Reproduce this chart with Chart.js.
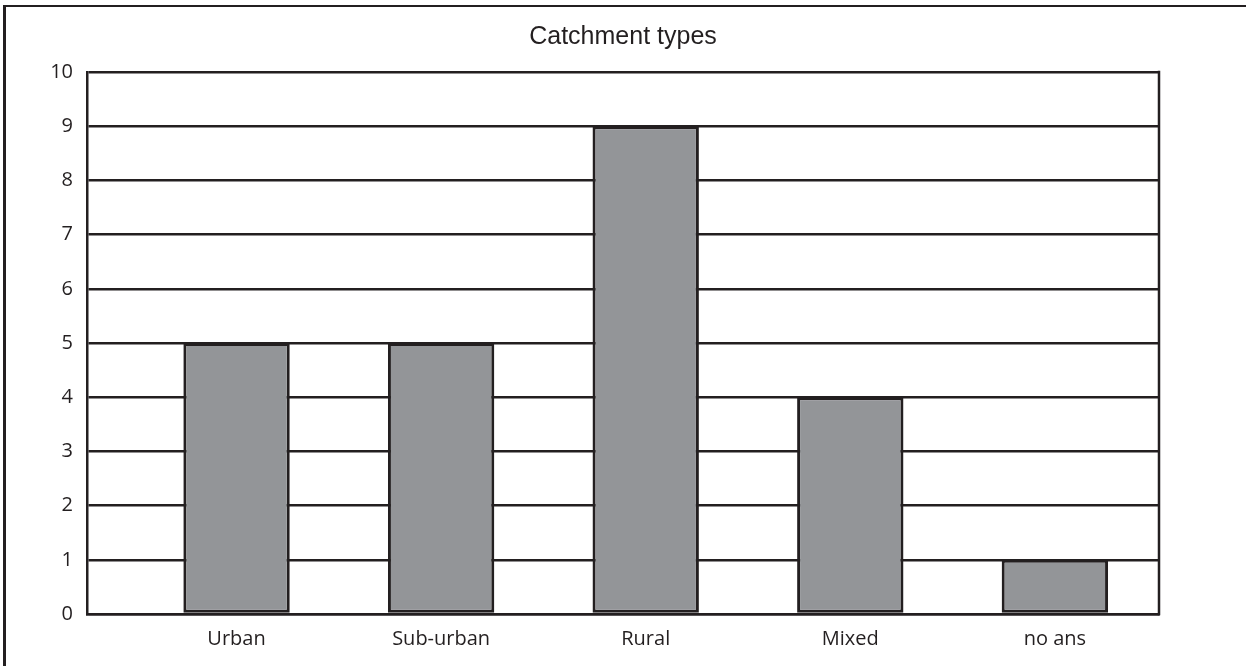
<!DOCTYPE html>
<html>
<head>
<meta charset="utf-8">
<title>Catchment types</title>
<script src="https://cdn.jsdelivr.net/npm/chart.js@4/dist/chart.umd.min.js"></script>
<style>
  html, body { margin: 0; padding: 0; background: #ffffff; overflow: hidden; }
  #wrap { position: relative; width: 1246px; height: 666px; }
  #frame {
    position: absolute; left: 3px; top: 5px; width: 2000px; height: 2000px;
    border-left: 3px solid #231f20; border-top: 2.5px solid #231f20;
    box-sizing: border-box; z-index: 0;
  }
  #chart { position: absolute; left: 0; top: 0; z-index: 1; }
</style>
</head>
<body>
<div id="wrap">
  <div id="frame"></div>
  <canvas id="chart" width="1246" height="666"></canvas>
</div>
<script>
// Survey answers: number of responses per catchment type
const categories = ['Urban', 'Sub-urban', 'Rural', 'Mixed', 'no ans'];
const counts = [5, 5, 9, 4, 1];
const yTicks = [0, 1, 2, 3, 4, 5, 6, 7, 8, 9, 10];

const ink = '#231f20';
const barGrey = '#939598';

// Closes the plot box on the right-hand side
const plotBox = {
  id: 'plotBox',
  afterDatasetsDraw(chart) {
    const { ctx, chartArea: a } = chart;
    ctx.save();
    ctx.strokeStyle = ink;
    ctx.lineWidth = 2.5;
    ctx.beginPath();
    ctx.moveTo(a.right, a.top - 1.25);
    ctx.lineTo(a.right, a.bottom + 1.25);
    ctx.stroke();
    ctx.restore();
  }
};

new Chart(document.getElementById('chart'), {
  type: 'bar',
  data: {
    datasets: [{
      data: counts.map((v, i) => ({ x: i, y: v })),
      backgroundColor: barGrey,
      borderColor: ink,
      borderWidth: 3,
      borderSkipped: false,
      categoryPercentage: 1,
      barPercentage: 0.52
    }]
  },
  options: {
    responsive: false,
    devicePixelRatio: 1,
    animation: false,
    layout: { padding: { left: 0, right: 87, top: 0, bottom: 0 } },
    plugins: {
      legend: { display: false },
      tooltip: { enabled: false },
      title: {
        display: true,
        fullSize: false,
        text: 'Catchment types',
        color: ink,
        font: { family: '"Liberation Sans", Arial, sans-serif', size: 25, weight: 'normal', lineHeight: 1.2 },
        padding: { top: 22, bottom: 20 }
      }
    },
    scales: {
      x: {
        type: 'linear',
        offset: false,
        min: -0.731,
        max: 4.509,
        afterBuildTicks(scale) {
          scale.ticks = categories.map((_, i) => ({ value: i }));
        },
        afterFit(scale) { scale.height = 52; },
        ticks: {
          autoSkip: false,
          maxRotation: 0,
          padding: 13,
          color: ink,
          font: { family: '"Open Sans", sans-serif', size: 20 },
          callback: (v) => categories[v] ?? ''
        },
        grid: { display: false, drawTicks: false },
        border: { display: true, color: ink, width: 2.5 }
      },
      y: {
        min: 0,
        max: 10,
        afterBuildTicks(scale) {
          scale.ticks = yTicks.map(v => ({ value: v }));
        },
        afterFit(scale) { scale.width = 87; },
        ticks: {
          padding: 14,
          color: ink,
          font: { family: '"Open Sans", sans-serif', size: 20 }
        },
        grid: { color: ink, lineWidth: 2.5, drawTicks: false },
        border: { display: true, color: ink, width: 2.5 }
      }
    }
  },
  plugins: [plotBox]
});
</script>
</body>
</html>
